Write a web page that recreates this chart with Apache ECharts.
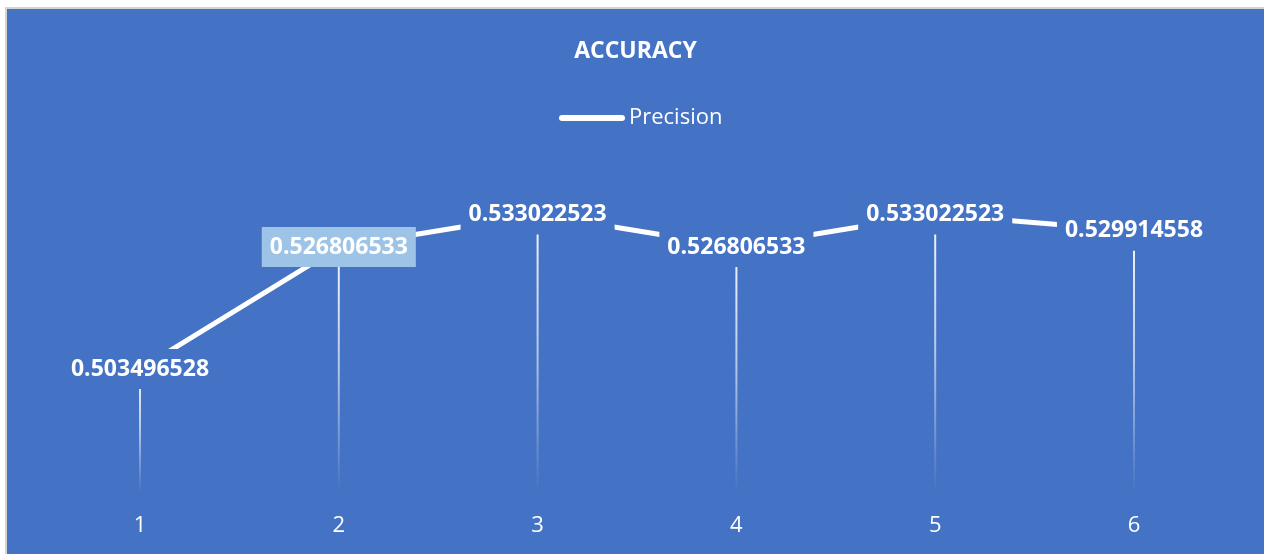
<!DOCTYPE html>
<html>
<head>
<meta charset="utf-8">
<script src="https://cdn.jsdelivr.net/npm/echarts@6/dist/echarts.min.js"></script>
<style>
  html, body { margin: 0; padding: 0; background: #ffffff; overflow: hidden; }
  #frame { position: absolute; left: 5px; top: 7px; width: 1257px; height: 545px;
           border-left: 2px solid #d4d4d4; border-top: 2px solid #d4d4d4; background: #4472C4; }
  #chart { width: 1257px; height: 545px; }
</style>
</head>
<body>
<div id="frame"><div id="chart"></div></div>
<script>
const categories = ['1', '2', '3', '4', '5', '6'];
const precision = [0.503496528, 0.526806533, 0.533022523, 0.526806533, 0.533022523, 0.529914558];
const seriesName = 'Precision';
const titleText = 'ACCURACY';
const highlightIndex = 1;

const FONT = 'Open Sans';
const chart = echarts.init(document.getElementById('chart'), null, { renderer: 'canvas' });

const lineData = precision.map((v, i) => i === highlightIndex
  ? { value: v, label: { backgroundColor: '#9DC3E6' } }
  : v);

chart.setOption({
  backgroundColor: '#4472C4',
  animation: false,
  title: {
    text: titleText,
    left: 'center',
    top: 31,
    padding: 0,
    textStyle: { color: '#ffffff', fontFamily: FONT, fontWeight: 'bold', fontSize: 23 }
  },
  legend: {
    data: [seriesName],
    left: 552,
    top: 98,
    padding: 0,
    itemWidth: 66,
    itemHeight: 6,
    itemGap: 10,
    icon: 'path://M3,0 L63,0 A3,3 0 0 1 63,6 L3,6 A3,3 0 0 1 3,0 Z',
    itemStyle: { color: '#ffffff' },
    textStyle: { color: '#ffffff', fontFamily: FONT, fontSize: 22, padding: [0, 0, 0, -1] }
  },
  grid: { left: 33.6, right: 30.6, top: 169, bottom: 62, containLabel: false },
  xAxis: {
    type: 'category',
    data: categories,
    boundaryGap: true,
    axisLine: { show: false },
    axisTick: { show: false },
    splitLine: { show: false },
    axisLabel: { color: '#ffffff', fontFamily: FONT, fontSize: 22, margin: 23 }
  },
  yAxis: {
    type: 'value',
    min: 0.48,
    max: 0.54,
    show: false,
    splitLine: { show: false }
  },
  series: [
    {
      name: 'drop',
      type: 'bar',
      data: precision,
      barWidth: 2,
      z: 1,
      silent: true,
      itemStyle: {
        color: new echarts.graphic.LinearGradient(0, 0, 0, 1, [
          { offset: 0, color: 'rgba(255,255,255,0.95)' },
          { offset: 0.5, color: 'rgba(255,255,255,0.6)' },
          { offset: 1, color: 'rgba(255,255,255,0)' }
        ])
      }
    },
    {
      name: seriesName,
      type: 'line',
      data: lineData,
      z: 3,
      symbol: 'circle',
      symbolSize: 1,
      showSymbol: true,
      lineStyle: { color: '#ffffff', width: 5 },
      itemStyle: { color: '#ffffff' },
      label: {
        show: true,
        position: 'inside',
        color: '#ffffff',
        fontFamily: FONT,
        fontWeight: 'bold',
        fontSize: 23,
        lineHeight: 22,
        padding: [9, 8, 9, 8],
        backgroundColor: '#4472C4',
        formatter: p => String(p.value)
      }
    }
  ]
});
</script>
</body>
</html>
